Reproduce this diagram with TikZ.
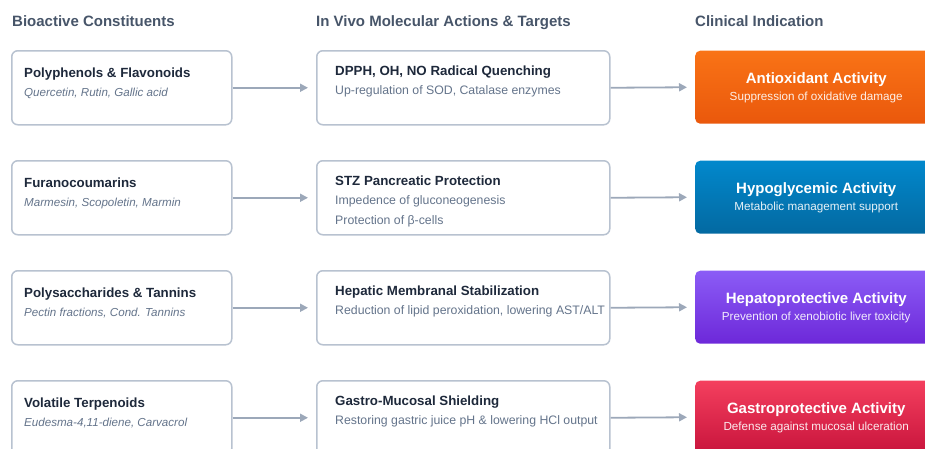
\documentclass[tikz,border=0pt]{standalone}
\usepackage{fontspec}
\setmainfont{Liberation Sans}
\usetikzlibrary{arrows.meta, positioning, calc}

\definecolor{boxline}{HTML}{B8C2D0}
\definecolor{arrowgray}{HTML}{9CA8B9}
\definecolor{titledark}{HTML}{1E293B}
\definecolor{subgray}{HTML}{64748B}
\definecolor{headgray}{HTML}{475569}
\definecolor{orangetop}{HTML}{F97316}
\definecolor{orangebot}{HTML}{EA580C}
\definecolor{bluetop}{HTML}{0288CC}
\definecolor{bluebot}{HTML}{0369A1}
\definecolor{purpletop}{HTML}{8B5CF6}
\definecolor{purplebot}{HTML}{6D28D9}
\definecolor{redtop}{HTML}{F43F5E}
\definecolor{redbot}{HTML}{C8143C}

\tikzset{
  basebox/.style={draw=boxline, line width=1.5pt, rounded corners=6pt, fill=white,
    inner sep=0pt, anchor=north west, minimum height=74pt},
  constbox/.style={basebox, minimum width=220pt},
  actbox/.style={basebox, minimum width=293pt},
  indbox/.style={rounded corners=5pt, inner sep=0pt, anchor=north west,
    minimum width=242pt, minimum height=73pt},
  hdr/.style={anchor=base west, inner sep=0pt, text=headgray,
    font=\bfseries\fontsize{15}{18}\selectfont},
  ttl/.style={anchor=base west, inner sep=0pt, text=titledark,
    font=\bfseries\fontsize{13.3}{16}\selectfont},
  subtxt/.style={anchor=base west, inner sep=0pt, text=subgray,
    font=\fontsize{12.3}{14}\selectfont},
  subit/.style={subtxt, font=\itshape\fontsize{11.6}{14}\selectfont},
  indttl/.style={anchor=base, inner sep=0pt, text=white,
    font=\bfseries\fontsize{15}{18}\selectfont},
  indsub/.style={anchor=base, inner sep=0pt, text=white, text opacity=0.9,
    font=\fontsize{11.7}{14}\selectfont},
  link/.style={draw=arrowgray, line width=1.8pt, shorten >=8pt,
    -{Triangle[length=8pt,width=8pt]}},
}

\begin{document}
\begin{tikzpicture}[x=1pt, y=-1pt]
    \useasboundingbox (0,0) rectangle (925,448);
    \clip (0,0) rectangle (925,448);

    % Column headers
    \node[hdr] (hcon) at (12,26) {Bioactive Constituents};
    \node[hdr] (hact) at (316,26) {In Vivo Molecular Actions \& Targets};
    \node[hdr] (hind) at (695,26) {Clinical Indication};

    % Row 1
    \node[constbox] (con1) at (11,50) {};
    \node[ttl] (con1t) at ($(con1.north west)+(13,27.5)$) {Polyphenols \& Flavonoids};
    \node[subit] (con1s) at ($(con1.north west)+(13,46.5)$) {Quercetin, Rutin, Gallic acid};
    \node[actbox] (act1) at (316,50) {};
    \node[ttl] (act1t) at ($(act1.north west)+(19,25)$) {DPPH, OH, NO Radical Quenching};
    \node[subtxt] (act1s) at ($(act1.north west)+(19,44)$) {Up-regulation of SOD, Catalase enzymes};
    \node[indbox, top color=orangetop, bottom color=orangebot] (ind1) at (695,50.5) {};
    \node[indttl] (ind1t) at ($(ind1.north)+(0,33)$) {Antioxidant Activity};
    \node[indsub] (ind1s) at ($(ind1.north)+(0,50)$) {Suppression of oxidative damage};

    % Row 2
    \node[constbox] (con2) at (11,160) {};
    \node[ttl] (con2t) at ($(con2.north west)+(13,27.5)$) {Furanocoumarins};
    \node[subit] (con2s) at ($(con2.north west)+(13,46.5)$) {Marmesin, Scopoletin, Marmin};
    \node[actbox] (act2) at (316,160) {};
    \node[ttl] (act2t) at ($(act2.north west)+(19,25)$) {STZ Pancreatic Protection};
    \node[subtxt] (act2s) at ($(act2.north west)+(19,44)$) {Impedence of gluconeogenesis};
    \node[subtxt] (act2u) at ($(act2.north west)+(19,64)$) {Protection of β-cells};
    \node[indbox, top color=bluetop, bottom color=bluebot] (ind2) at (695,160.5) {};
    \node[indttl] (ind2t) at ($(ind2.north)+(0,33)$) {Hypoglycemic Activity};
    \node[indsub] (ind2s) at ($(ind2.north)+(0,50)$) {Metabolic management support};

    % Row 3
    \node[constbox] (con3) at (11,270) {};
    \node[ttl] (con3t) at ($(con3.north west)+(13,27.5)$) {Polysaccharides \& Tannins};
    \node[subit] (con3s) at ($(con3.north west)+(13,46.5)$) {Pectin fractions, Cond. Tannins};
    \node[actbox] (act3) at (316,270) {};
    \node[ttl] (act3t) at ($(act3.north west)+(19,25)$) {Hepatic Membranal Stabilization};
    \node[subtxt] (act3s) at ($(act3.north west)+(19,44)$) {Reduction of lipid peroxidation, lowering AST/ALT};
    \node[indbox, top color=purpletop, bottom color=purplebot] (ind3) at (695,270.5) {};
    \node[indttl] (ind3t) at ($(ind3.north)+(0,33)$) {Hepatoprotective Activity};
    \node[indsub] (ind3s) at ($(ind3.north)+(0,50)$) {Prevention of xenobiotic liver toxicity};

    % Row 4
    \node[constbox] (con4) at (11,380) {};
    \node[ttl] (con4t) at ($(con4.north west)+(13,27.5)$) {Volatile Terpenoids};
    \node[subit] (con4s) at ($(con4.north west)+(13,46.5)$) {Eudesma-4,11-diene, Carvacrol};
    \node[actbox] (act4) at (316,380) {};
    \node[ttl] (act4t) at ($(act4.north west)+(19,25)$) {Gastro-Mucosal Shielding};
    \node[subtxt] (act4s) at ($(act4.north west)+(19,44)$) {Restoring gastric juice pH \& lowering HCl output};
    \node[indbox, top color=redtop, bottom color=redbot] (ind4) at (695,380.5) {};
    \node[indttl] (ind4t) at ($(ind4.north)+(0,33)$) {Gastroprotective Activity};
    \node[indsub] (ind4s) at ($(ind4.north)+(0,50)$) {Defense against mucosal ulceration};

    % Connectors
    \foreach \i in {1,...,4} {
        \draw[link] (con\i.east) -- (act\i.west);
        \draw[link] (act\i.east) -- (ind\i.west);
    }
\end{tikzpicture}
\end{document}
